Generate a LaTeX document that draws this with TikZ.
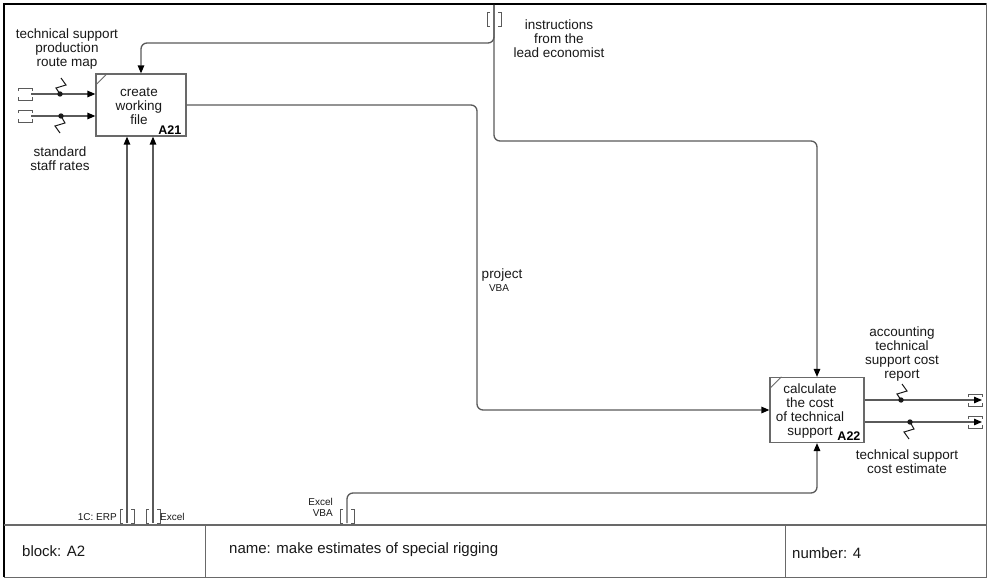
\documentclass[tikz,border=0pt]{standalone}
\usepackage{fontspec}
\setmainfont{Liberation Sans}
\usetikzlibrary{positioning,arrows.meta,calc}

\definecolor{linegray}{RGB}{90,90,90}
\definecolor{boxgray}{RGB}{105,105,105}
\definecolor{inkgray}{RGB}{25,25,25}

% brackets round an arrow end that leaves or enters the sheet
\newcommand{\vtunnel}[1]{%
  \draw[tunnel] ($(#1)+(-4,-7)$) -- ++(-3,0) -- ++(0,14) -- ++(3,0);
  \draw[tunnel] ($(#1)+(4,-7)$) -- ++(3,0) -- ++(0,14) -- ++(-3,0);}
\newcommand{\htunnel}[1]{%
  \draw[tunnel] ($(#1)+(-7,-3)$) -- ++(0,-3) -- ++(14,0) -- ++(0,3);
  \draw[tunnel] ($(#1)+(-7,3)$) -- ++(0,3) -- ++(14,0) -- ++(0,-3);}
% zigzag from a label to its arrow
\newcommand{\squigup}[1]{%
  \fill[inkgray] (#1) circle (2.7);
  \draw[squig] (#1) -- ++(-4,-6) -- ++(10,-3) -- ++(-5,-7);}
\newcommand{\squigdown}[1]{%
  \fill[inkgray] (#1) circle (2.7);
  \draw[squig] (#1) -- ++(4,7) -- ++(-10,3) -- ++(5,7);}

\begin{document}
\begin{tikzpicture}[x=1pt,y=-1pt,>={Triangle[length=8pt,width=6.5pt,color=black]},
  font=\fontsize{13.5}{14}\selectfont,
  func/.style={draw=boxgray,line width=1.2pt,inner sep=0pt},
  lbl/.style={align=center,inner sep=0pt,text=inkgray},
  small/.style={font=\fontsize{10}{11}\selectfont,inner sep=0pt,text=inkgray},
  idtag/.style={font=\fontsize{12.5}{13}\selectfont\bfseries,inner sep=0pt,anchor=south east},
  flow/.style={draw=linegray,line width=1.3pt,rounded corners=6pt,->},
  tunnel/.style={draw=linegray,line width=1pt},
  squig/.style={draw=inkgray,line width=1pt},
  panel/.style={font=\fontsize{15}{16}\selectfont,inner sep=0pt,anchor=west,text=inkgray}]
\useasboundingbox (0,0) rectangle (988,578);
\fill[white] (0,0) rectangle (988,578);

% sheet frame and title strip
\draw[boxgray,line width=1pt] (4,4) rectangle (986,577);
\draw[black,line width=2.8pt] (4,577) -- (4,4) -- (986,4);
\draw[boxgray,line width=1.3pt] (4,525) -- (986,525);
\draw[boxgray,line width=1pt] (205,525) -- (205,577);
\draw[boxgray,line width=1pt] (785,525) -- (785,577);
\node[panel] (blk) at (22,551) {block: A2};
\node[panel] (nm) at (229,550) {name: make estimates of special rigging};
\node[panel] (num) at (792,553) {number: 4};

% function boxes
\node[func,minimum width=90pt,minimum height=62pt] (a21) at (141,105) {};
\node[lbl] (a21txt) at (139,106) {create\\working\\file};
\node[idtag] (a21id) at ([shift={(-5,-2)}]a21.south east) {A21};
\draw[boxgray,line width=0.9pt] ([yshift=-12pt]a21.north west) -- ([xshift=12pt]a21.north west);

\node[func,minimum width=94pt,minimum height=65pt] (a22) at (817,410) {};
\node[lbl] (a22txt) at (810,411) {calculate\\the cost\\of technical\\support};
\node[idtag] (a22id) at ([shift={(-4,-2)}]a22.south east) {A22};
\draw[boxgray,line width=0.9pt] ([yshift=-12pt]a22.north west) -- ([xshift=12pt]a22.north west);

% arrow ends
\coordinate (in1) at (25,94);
\coordinate (in2) at (25,116);
\coordinate (ctl) at (494,5);
\coordinate (ctlsplit) at (494,43);
\coordinate (ctlrun) at (817,141);
\coordinate (prjbend) at (477,410);
\coordinate (m1) at (127,523);
\coordinate (m2) at (153,523);
\coordinate (m3) at (347,523);
\coordinate (m3run) at (817,493);
\coordinate (out1) at (982,400);
\coordinate (out2) at (982,422);

% inputs
\draw[flow] ([xshift=6pt]in1) -- (in1 -| a21.west);
\draw[flow] ([xshift=6pt]in2) -- (in2 -| a21.west);
\htunnel{in1}
\htunnel{in2}
\squigup{60,94}
\squigdown{61,116}
\node[lbl] (tsmap) at (67,49) {technical support\\production\\route map};
\node[lbl] (rates) at (60,159) {standard\\staff rates};

% control
\draw[flow] (ctl) -- (ctlsplit) -| (a21.north);
\draw[flow] (ctl) |- (ctlrun) -- (a22.north);
\vtunnel{494,20}
\node[lbl] (instr) at (559,39) {instructions\\from the\\lead economist};

% A21 to A22
\draw[flow] (a21.east) -| (prjbend) -- (a22.west);
\node[lbl] (prj) at (502,275) {project};
\node[small] (prjvba) at (499,288) {VBA};

% mechanisms
\draw[flow] (m1) -- (m1 |- a21.south);
\draw[flow] (m2) -- (m2 |- a21.south);
\draw[flow] (m3) |- (m3run) -- (a22.south);
\vtunnel{127,516}
\vtunnel{153,516}
\vtunnel{347,516}
\node[small,anchor=east] (erp) at (117,517) {1C: ERP};
\node[small,anchor=west] (xl) at (160,517) {Excel};
\node[small,align=right,anchor=east] (xlvba) at (333,507) {Excel\\VBA};

% outputs
\draw[flow] (a22.east |- out1) -- (out1);
\draw[flow] (a22.east |- out2) -- (out2);
\htunnel{975,400}
\htunnel{975,422}
\squigup{901,400}
\squigdown{910,422}
\node[lbl] (acc) at (902,354) {accounting\\technical\\support cost\\report};
\node[lbl] (est) at (907,462) {technical support\\cost estimate};
\end{tikzpicture}
\end{document}
